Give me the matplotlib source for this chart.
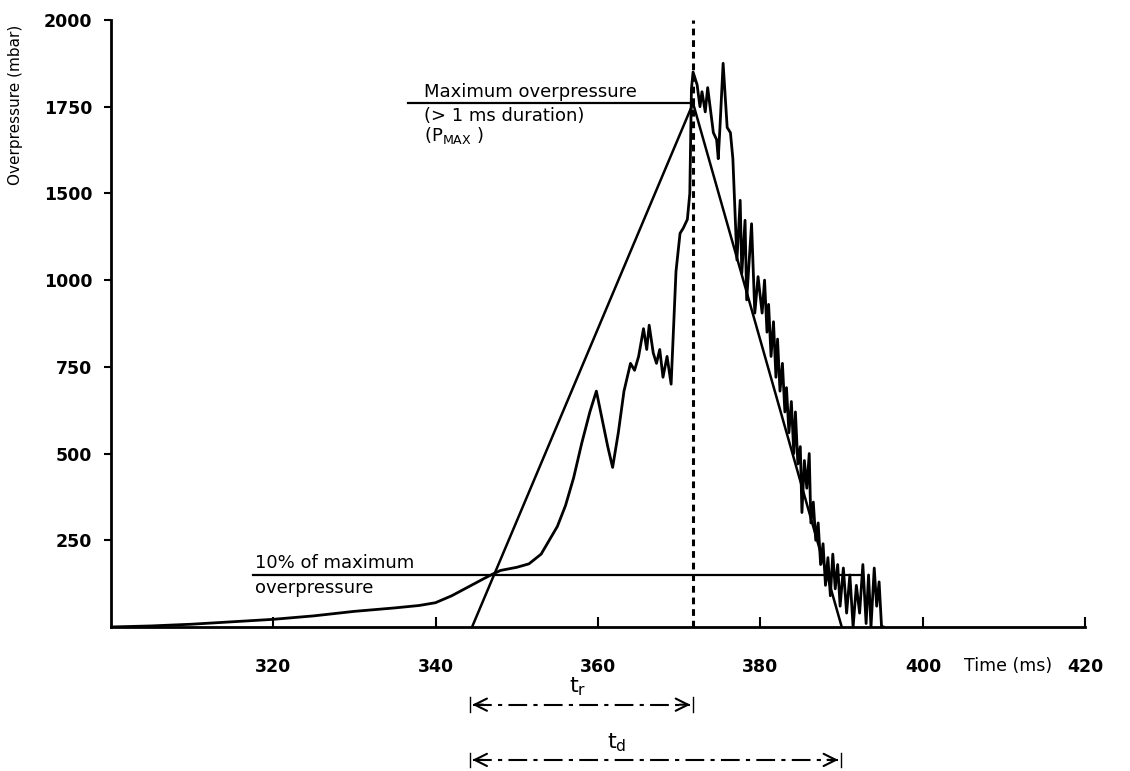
import numpy as np
import matplotlib
matplotlib.use('Agg')
import matplotlib.pyplot as plt
from matplotlib.transforms import blended_transform_factory

# measured overpressure trace (ms, mbar)
time_ms = [300, 305, 310, 315, 320, 325, 330, 335, 338, 340, 342, 344, 346, 347,
           348, 350, 351.5, 353, 354, 355, 356, 357, 358, 359, 359.8, 360.5, 361.2,
           361.8, 362.5, 363.2, 363.6, 364.0, 364.5, 365.0, 365.6, 366.0, 366.3,
           366.8, 367.2, 367.6, 368.0, 368.5, 369.0, 369.6, 370.1, 370.5, 371.0,
           371.3, 371.5, 371.7, 372.2, 372.55, 372.8, 373.2, 373.5, 374.2, 374.6,
           374.8, 375.0, 375.4, 375.9, 376.3, 376.6, 377.1, 377.5, 377.7, 378.1,
           378.3, 378.9, 379.3, 379.7, 380.2, 380.5, 380.8, 381.0, 381.3, 381.6,
           381.9, 382.1, 382.4, 382.7, 383.0, 383.2, 383.5, 383.8, 384.1, 384.3,
           384.6, 384.9, 385.1, 385.4, 385.7, 386.0, 386.2, 386.5, 386.8, 387.1,
           387.4, 387.7, 388.0, 388.3, 388.6, 388.9, 389.2, 389.5, 389.8, 390.2,
           390.6, 391.0, 391.4, 391.8, 392.2, 392.6, 393.0, 393.3, 393.6, 394.0,
           394.3, 394.6, 394.9, 395.1]
pressure = [0, 3, 8, 15, 22, 32, 45, 55, 62, 70, 90, 115, 140, 152,
            163, 172, 182, 210, 250, 290, 350, 430, 530, 620, 680, 600, 520,
            460, 560, 680, 720, 760, 740, 780, 860, 800, 870,
            790, 760, 800, 720, 780, 700, 1050, 1270, 1300, 1350,
            1500, 1800, 1850, 1813, 1750, 1793, 1735, 1805, 1675, 1655,
            1600, 1685, 1875, 1690, 1675, 1600, 1116, 1460, 1040, 1345,
            943, 1325, 905, 1020, 905, 1000, 850, 930, 780, 880,
            720, 830, 680, 760, 620, 690, 560, 650, 500, 620,
            470, 520, 330, 480, 400, 500, 300, 360, 250, 300,
            180, 240, 120, 200, 90, 210, 110, 180, 60, 170,
            40, 150, 0, 120, 40, 180, 10, 150, 0, 170,
            60, 130, 0, 0]

# idealised triangle
tri_t = [344.5, 371.7, 390.0]
tri_p = [0, 1760, 0]

t_peak = 371.7
p_max = 1760
p_10 = 150
t_rise_start = 344.2
t_end = 389.9

y_ticks = [250, 500, 750, 1000, 1500, 1750, 2000]
y_ticklabels = ['250', '500', '750', '1000', '1500', '1750', '2000']
x_ticks = [320, 340, 360, 380, 400, 420]

# the printed axis has equally spaced ticks but skips 1250
seg_val = [0, 1000, 1500, 2000]
seg_pos = [0, 4, 5, 7]


def fwd(v):
    return np.interp(v, seg_val, seg_pos)


def inv(u):
    return np.interp(u, seg_pos, seg_val)


plt.rcParams['font.family'] = 'DejaVu Sans'
fig = plt.figure(figsize=(11.3, 7.71), dpi=100)
ax = fig.add_axes([0.0978, 0.1868, 0.8628, 0.7873])
ax.set_yscale('function', functions=(fwd, inv))

ax.plot(time_ms, pressure, color='black', lw=2)
ax.plot(tri_t, tri_p, color='black', lw=1.8)
ax.plot([t_peak, t_peak], [0, 2000], color='black', lw=2.2,
        linestyle=(0, (2.2, 1.6)), clip_on=False)
ax.plot([336.6, t_peak], [p_max, p_max], color='black', lw=1.6)
ax.plot([317.5, 392.5], [p_10, p_10], color='black', lw=1.6)

ax.text(338.6, p_max + 5, 'Maximum overpressure', fontsize=13, va='bottom')
ax.text(338.6, p_max - 10, '(> 1 ms duration)\n(P$_{\\mathregular{MAX}}$ )', fontsize=13,
        va='top', linespacing=1.05)
ax.text(317.8, p_10 + 8, '10% of maximum', fontsize=13, va='bottom')
ax.text(317.8, p_10 - 12, 'overpressure', fontsize=13, va='top')

ax.set_xlim(300, 420)
ax.set_ylim(0, 2000)
ax.set_xticks(x_ticks)
ax.set_xticklabels([str(x) for x in x_ticks], fontsize=12.5, fontweight='bold')
ax.set_yticks(y_ticks)
ax.set_yticklabels(y_ticklabels, fontsize=12.5, fontweight='bold')
ax.tick_params(axis='x', direction='in', length=7, width=1.5, pad=22)
ax.tick_params(axis='y', direction='out', length=5, width=1.5, pad=8)
for side in ['top', 'right']:
    ax.spines[side].set_visible(False)
for side in ['left', 'bottom']:
    ax.spines[side].set_linewidth(2)

ax.set_ylabel('Overpressure (mbar)', fontsize=11)
ax.yaxis.set_label_coords(-0.09, 0.86)
ax.text(410.5, -0.065, 'Time (ms)', fontsize=12.5, ha='center', va='center',
        transform=blended_transform_factory(ax.transData, ax.transAxes))

# rise time and duration arrows below the axis
trans = blended_transform_factory(ax.transData, ax.transAxes)
dashdot = (0, (9, 3, 2, 3))
for y, t1, lab, lx, ly in [(-0.128, t_peak, '$\\mathregular{t_r}$', 357.5, -0.099),
                           (-0.219, t_end, '$\\mathregular{t_d}$', 362.3, -0.19)]:
    ax.plot([t_rise_start + 0.4, t1 - 0.4], [y, y], color='black', lw=1.5,
            linestyle=dashdot, transform=trans, clip_on=False)
    ax.annotate('', xy=(t_rise_start, y), xytext=(t_rise_start + 2, y),
                xycoords=trans, textcoords=trans,
                arrowprops=dict(arrowstyle='->', lw=1.5, mutation_scale=22))
    ax.annotate('', xy=(t1, y), xytext=(t1 - 2, y),
                xycoords=trans, textcoords=trans,
                arrowprops=dict(arrowstyle='->', lw=1.5, mutation_scale=22))
    for tx in (t_rise_start, t1):
        ax.plot([tx, tx], [y - 0.012, y + 0.012], color='black', lw=1,
                transform=trans, clip_on=False)
    ax.text(lx, ly, lab, fontsize=16, ha='center', va='center', transform=trans)

fig.savefig('out.png', dpi=100)
